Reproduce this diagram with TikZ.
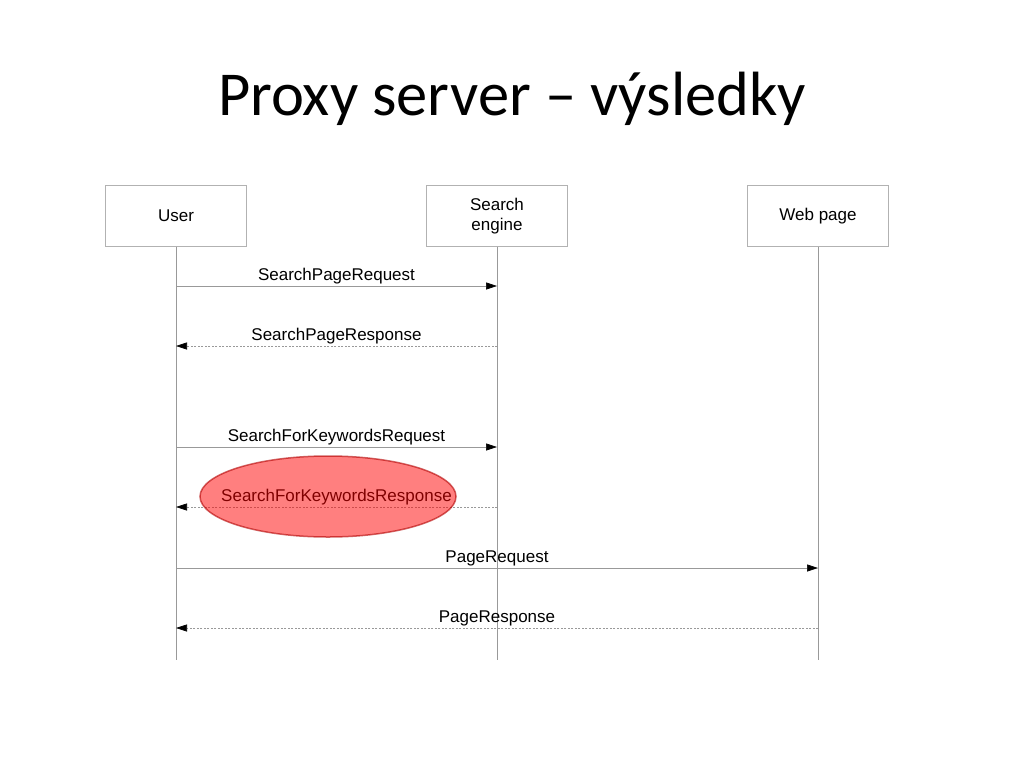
\documentclass[tikz,border=0pt]{standalone}
\usepackage{fontspec}
\setmainfont{Liberation Sans}
\newfontfamily\titlefont{Carlito}
\usetikzlibrary{arrows.meta,shapes.geometric}
\begin{document}
\begin{tikzpicture}[x=1pt,y=-1pt,
	actor/.style={draw=gray!60, minimum width=141pt, minimum height=61pt, align=center, font=\fontsize{17}{20}\selectfont},
	life/.style={draw=gray!80, line width=0.6pt},
	call/.style={draw=gray!80, line width=0.6pt, -{Triangle[length=11pt,width=7pt,black]}},
	reply/.style={call, dash pattern=on 2pt off 1.5pt},
	msg/.style={font=\fontsize{17}{20}\selectfont, anchor=south, inner sep=2pt, midway}]
\useasboundingbox[fill=white] (0,0) rectangle (1024,768);
\node[font=\titlefont\fontsize{62.5}{70}\selectfont] (title) at (512,99) {Proxy server – výsledky};
% actors
\node[actor] (user) at (176,216) {User};
\node[actor] (search) at (497,216) {Search\\engine};
\node[actor] (web) at (818,216) {Web page};
\coordinate (userend) at (176,660);
\coordinate (searchend) at (497,660);
\coordinate (webend) at (818,660);
\draw[life] (user) -- (userend);
\draw[life] (search) -- (searchend);
\draw[life] (web) -- (webend);
% message points
\foreach \i/\y in {1/286,2/346,3/447,4/507,5/568,6/628}{
	\coordinate (u\i) at (176,\y);
	\coordinate (s\i) at (497,\y);
	\coordinate (w\i) at (818,\y);
}
\draw[call] (u1) -- (s1) node[msg]{SearchPageRequest};
\draw[reply] (s2) -- (u2) node[msg]{SearchPageResponse};
\draw[call] (u3) -- (s3) node[msg]{SearchForKeywordsRequest};
\draw[reply] (s4) -- (u4) node[msg]{SearchForKeywordsResponse};
\draw[call] (u5) -- (w5) node[msg]{PageRequest};
\draw[reply] (w6) -- (u6) node[msg]{PageResponse};
% highlight
\node[ellipse, minimum width=256pt, minimum height=81pt, fill=red, fill opacity=0.5, draw=red!70!black, draw opacity=0.6, line width=1.5pt] (mark) at (328,496.5) {};
\end{tikzpicture}
\end{document}
